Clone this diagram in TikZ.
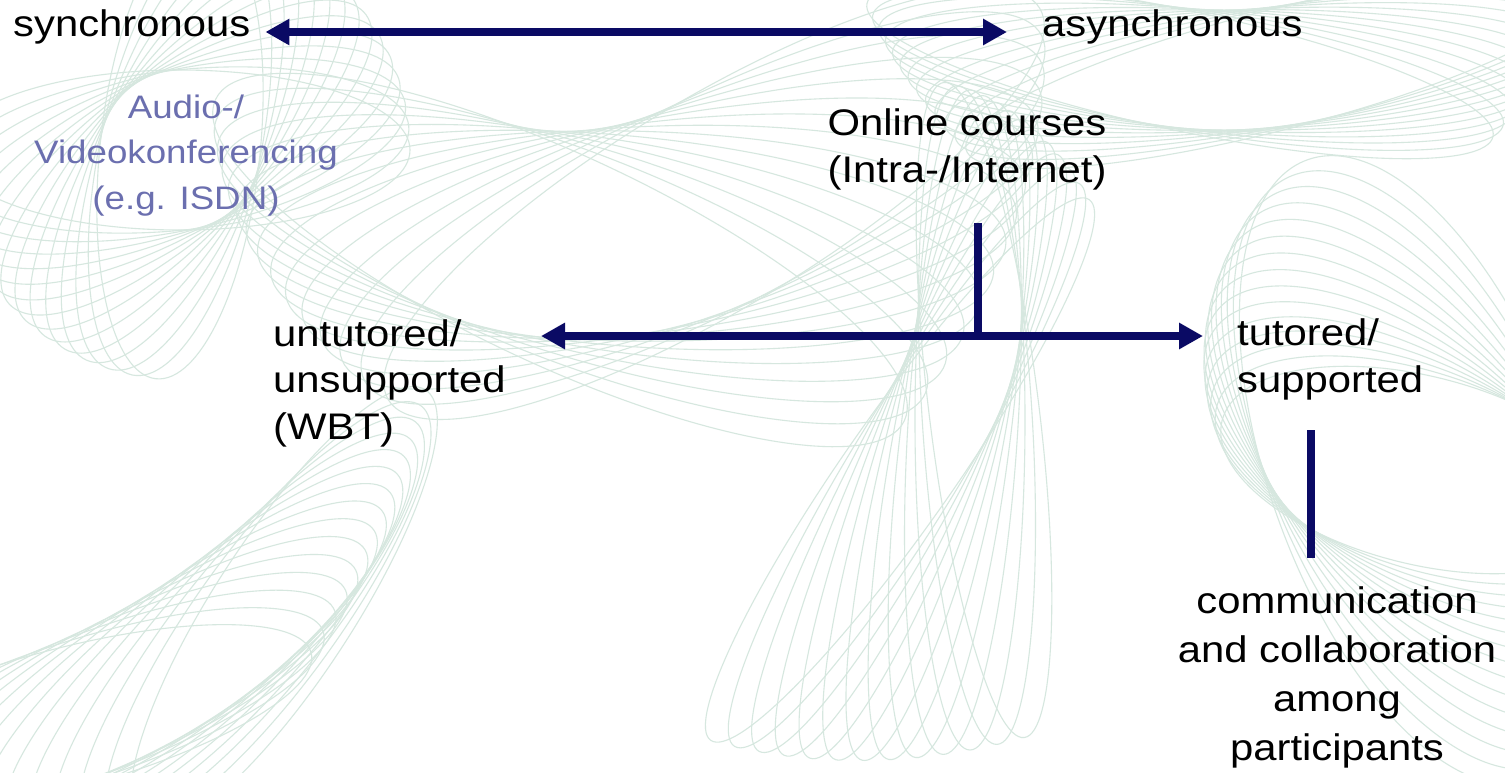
\documentclass[tikz,border=0pt]{standalone}
\usepackage{fontspec}
\setmainfont[FakeStretch=1.13]{Liberation Sans}
\usetikzlibrary{arrows.meta}
\definecolor{navy}{HTML}{0A0A64}
\definecolor{softblue}{HTML}{6B6FAF}
\definecolor{guilloche}{HTML}{D6E7DF}

\begin{document}
\begin{tikzpicture}[x=1pt,y=-1pt,
  label/.style={inner sep=0pt, text=black, font=\fontsize{37}{46.5}\selectfont},
  sublabel/.style={inner sep=0pt, text=softblue, font=\fontsize{32.5}{45.5}\selectfont},
  connector/.style={draw=navy, line width=8pt},
  biarrow/.style={connector, {Triangle[length=24pt,width=25pt]}-{Triangle[length=24pt,width=25pt]}},
  bg/.style={draw=guilloche, line width=1.1pt}]

\useasboundingbox[fill=white] (0,0) rectangle (1505,772);

% guilloche background
\begin{scope}
\clip (0,0) rectangle (1505,772);
% top-left rosette
\foreach \i [evaluate=\i as \a using 6*\i] in {0,...,14}
  \draw[bg, rotate around={\a:(180,150)}] (180,150) ellipse [x radius=230pt, y radius=80pt];
% lower-left ribbon
\foreach \i [evaluate=\i as \a using 15+3*\i, evaluate=\i as \cx using 60+16*\i, evaluate=\i as \cy using 720-8*\i] in {0,...,14}
  \draw[bg, rotate around={\a:(\cx,\cy)}] (\cx,\cy) ellipse [x radius=260pt, y radius=70pt];
% central loops
\foreach \i [evaluate=\i as \a using -25+4*\i, evaluate=\i as \cx using 560+11*\i, evaluate=\i as \cy using 260-4*\i] in {0,...,14}
  \draw[bg, rotate around={\a:(\cx,\cy)}] (\cx,\cy) ellipse [x radius=380pt, y radius=105pt];
% centre-right band
\foreach \i [evaluate=\i as \a using 55+3.5*\i, evaluate=\i as \cx using 900+7*\i, evaluate=\i as \cy using 470-5*\i] in {0,...,12}
  \draw[bg, rotate around={\a:(\cx,\cy)}] (\cx,\cy) ellipse [x radius=330pt, y radius=55pt];
% lower-right shell
\foreach \i [evaluate=\i as \a using 110+4*\i, evaluate=\i as \rx using 330-9*\i, evaluate=\i as \ry using 150-4*\i] in {0,...,14}
  \draw[bg, rotate around={\a:(1420,470)}] (1420,470) ellipse [x radius=\rx pt, y radius=\ry pt];
% top-right sweep
\foreach \i [evaluate=\i as \a using -12+2.2*\i, evaluate=\i as \cx using 1180+8*\i] in {0,...,12}
  \draw[bg, rotate around={\a:(\cx,70)}] (\cx,70) ellipse [x radius=320pt, y radius=60pt];
\end{scope}

% labels (a multi-line node sits on the baseline of its last line)
\node[label, anchor=base west] (sync) at (13,36) {synchronous};
\node[label, anchor=base west] (async) at (1042,36) {asynchronous};
\node[sublabel, anchor=base, align=center] (conf) at (186,209) {Audio-/\\Videokonferencing\\(e.g. ISDN)};
\node[label, anchor=base, align=center] (online) at (967,182) {Online courses\\(Intra-/Internet)};
\node[label, anchor=base west, align=left] (untut) at (273,439) {untutored/\\unsupported\\(WBT)};
\node[label, anchor=base west, align=left] (tut) at (1237,392) {tutored/\\supported};
\node[label, anchor=base, align=center, font=\fontsize{37}{49}\selectfont] (comm) at (1337,760) {communication\\and collaboration\\among\\participants};

% connectors
\draw[biarrow] ([shift={(15,-4)}]sync.base east) -- ([shift={(-35,-4)}]async.base west);

\coordinate (stemtop) at (977.5,223);
\coordinate (hub) at (977.5,336);
\coordinate (lefttip) at (541,336);
\coordinate (righttip) at (1203,336);
\draw[connector] (stemtop) -- (hub);
\draw[biarrow] (lefttip) -- (righttip);

\coordinate (linktop) at (1311,430);
\coordinate (linkbot) at (1311,558);
\draw[connector] (linktop) -- (linkbot);
\end{tikzpicture}
\end{document}
